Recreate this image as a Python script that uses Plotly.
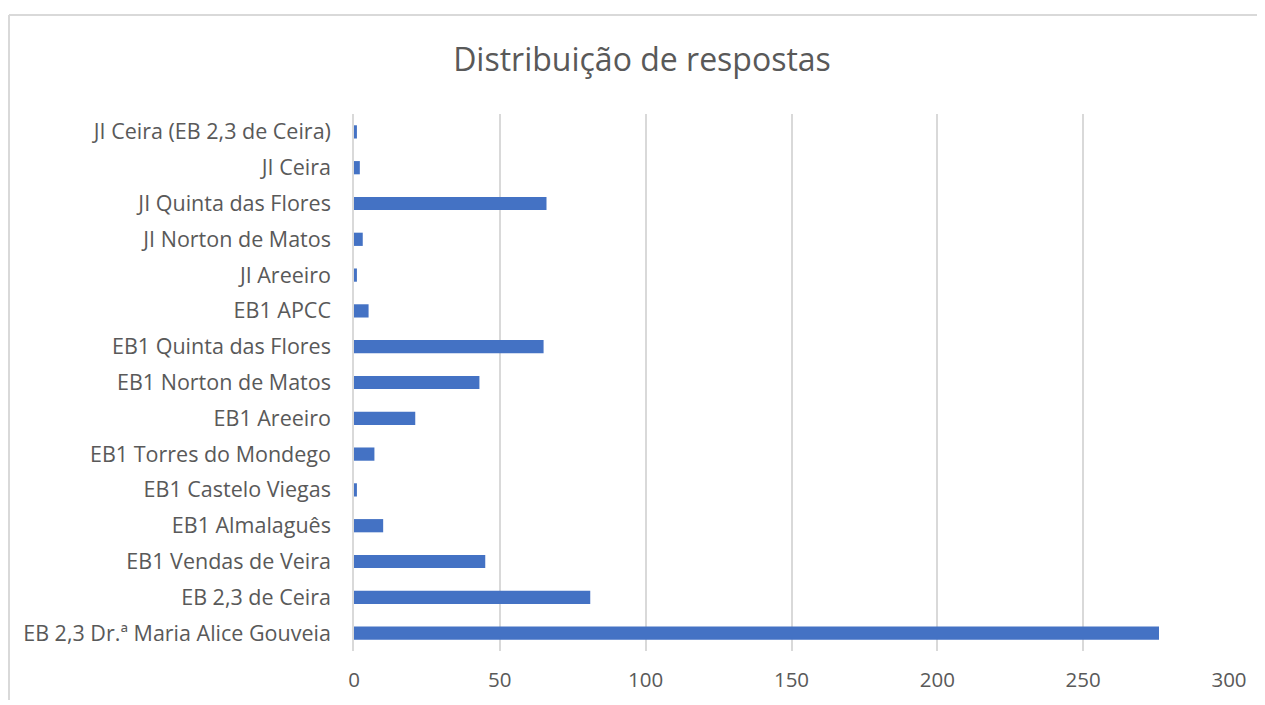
import plotly.graph_objects as go

categories = [
    "EB 2,3 Dr.ª Maria Alice Gouveia",
    "EB 2,3 de Ceira",
    "EB1 Vendas de Veira",
    "EB1 Almalaguês",
    "EB1 Castelo Viegas",
    "EB1 Torres do Mondego",
    "EB1 Areeiro",
    "EB1 Norton de Matos",
    "EB1 Quinta das Flores",
    "EB1 APCC",
    "JI Areeiro",
    "JI Norton de Matos",
    "JI Quinta das Flores",
    "JI Ceira",
    "JI Ceira (EB 2,3 de Ceira)",
]
values = [276, 81, 45, 10, 1, 7, 21, 43, 65, 5, 1, 3, 66, 2, 1]
x_ticks = [0, 50, 100, 150, 200, 250, 300]
title = "Distribuição de respostas"

# page has an 8px body margin; figure spans page px 8..1265, 8..705
OFF = 8
W, H = 1265 - OFF, 705 - OFF
L, R, T, B = 354 - OFF, 36, 114 - OFF, 54
pw, ph = W - L - R, H - T - B

def px_x(p):
    return (p - OFF - L) / pw

def px_y(p):
    return (H - B - (p - OFF)) / ph

fig = go.Figure(go.Bar(
    y=categories, x=values, orientation="h",
    marker=dict(color="#4472c4", line=dict(width=0)),
))

fig.update_layout(
    width=W, height=H,
    margin=dict(l=L, r=R, t=T, b=B, autoexpand=False),
    paper_bgcolor="white", plot_bgcolor="white",
    bargap=0.63,
    showlegend=False,
    font=dict(family="Open Sans, sans-serif", color="#595959"),
    title=dict(text=title, x=(642 - OFF) / W, xanchor="center", y=1 - (60 - OFF) / H, yanchor="middle",
               font=dict(size=32, color="#595959")),
    xaxis=dict(range=[0, 300], tickvals=x_ticks, showgrid=True, gridcolor="#d9d9d9",
               gridwidth=1.5, zeroline=False, showline=False, ticks="",
               tickfont=dict(size=20.5, color="#595959"), ticklabelstandoff=14),
    yaxis=dict(categoryorder="array", categoryarray=categories, showgrid=False,
               zeroline=False, showline=True, linecolor="#d9d9d9", linewidth=1.5,
               ticks="", tickfont=dict(size=21.5, color="#595959"), ticklabelstandoff=17),
    shapes=[
        dict(type="line", xref="paper", yref="paper", x0=px_x(9), x1=px_x(1265), y0=px_y(15), y1=px_y(15),
             line=dict(color="#d9d9d9", width=2)),
        dict(type="line", xref="paper", yref="paper", x0=px_x(9), x1=px_x(9), y0=px_y(15), y1=px_y(700),
             line=dict(color="#d9d9d9", width=2)),
    ],
)

fig.write_html("out.html")
